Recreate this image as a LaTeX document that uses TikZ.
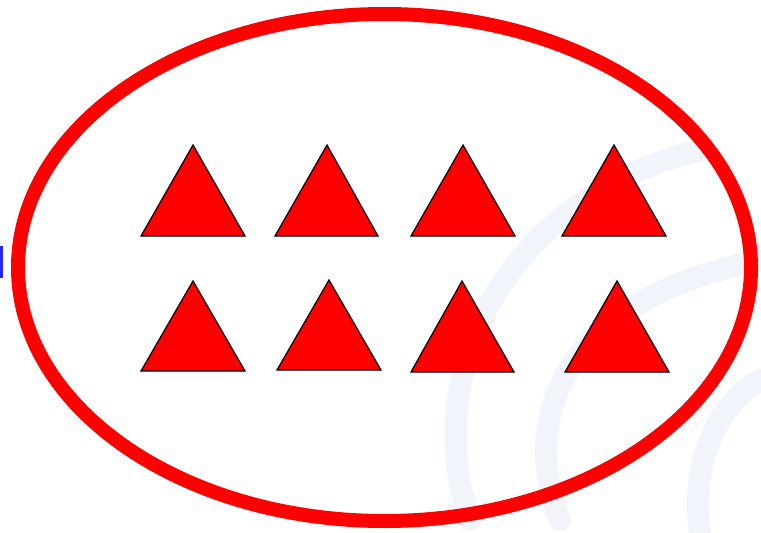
\documentclass[tikz,border=0pt]{standalone}
\definecolor{wm}{RGB}{241,244,250}
\begin{document}
\begin{tikzpicture}[x=1pt,y=-1pt,
  tri/.style={fill=red,draw=black,line width=1.2pt,line join=miter},
  ring/.style={draw=red,line width=14pt}]
\useasboundingbox (0,0) rectangle (761,533);
\fill[white] (0,0) rectangle (761,533);
% faint watermark
\begin{scope}[draw=wm,line width=22pt,line cap=round]
  \draw (470,520) .. controls (420,380) and (500,200) .. (700,150);
  \draw (560,520) .. controls (520,420) and (560,300) .. (761,260);
  \draw (700,533) .. controls (690,460) and (720,400) .. (761,380);
\end{scope}
\fill[blue!85!white] (0,246) rectangle (3,278);
\draw[ring] (384.5,267.5) ellipse [x radius=366.5, y radius=253.5];
\draw[tri] (141,236) -- (193,145) -- (245,236) -- cycle;
\draw[tri] (275,236) -- (327,145) -- (378,236) -- cycle;
\draw[tri] (411,236) -- (463,145) -- (515,236) -- cycle;
\draw[tri] (562,236) -- (614,145) -- (666,236) -- cycle;
\draw[tri] (141,371) -- (193,281) -- (245,371) -- cycle;
\draw[tri] (277,370) -- (329,280) -- (381,370) -- cycle;
\draw[tri] (411,372) -- (462,281) -- (514,372) -- cycle;
\draw[tri] (565,372) -- (617,281) -- (669,372) -- cycle;
\end{tikzpicture}
\end{document}
